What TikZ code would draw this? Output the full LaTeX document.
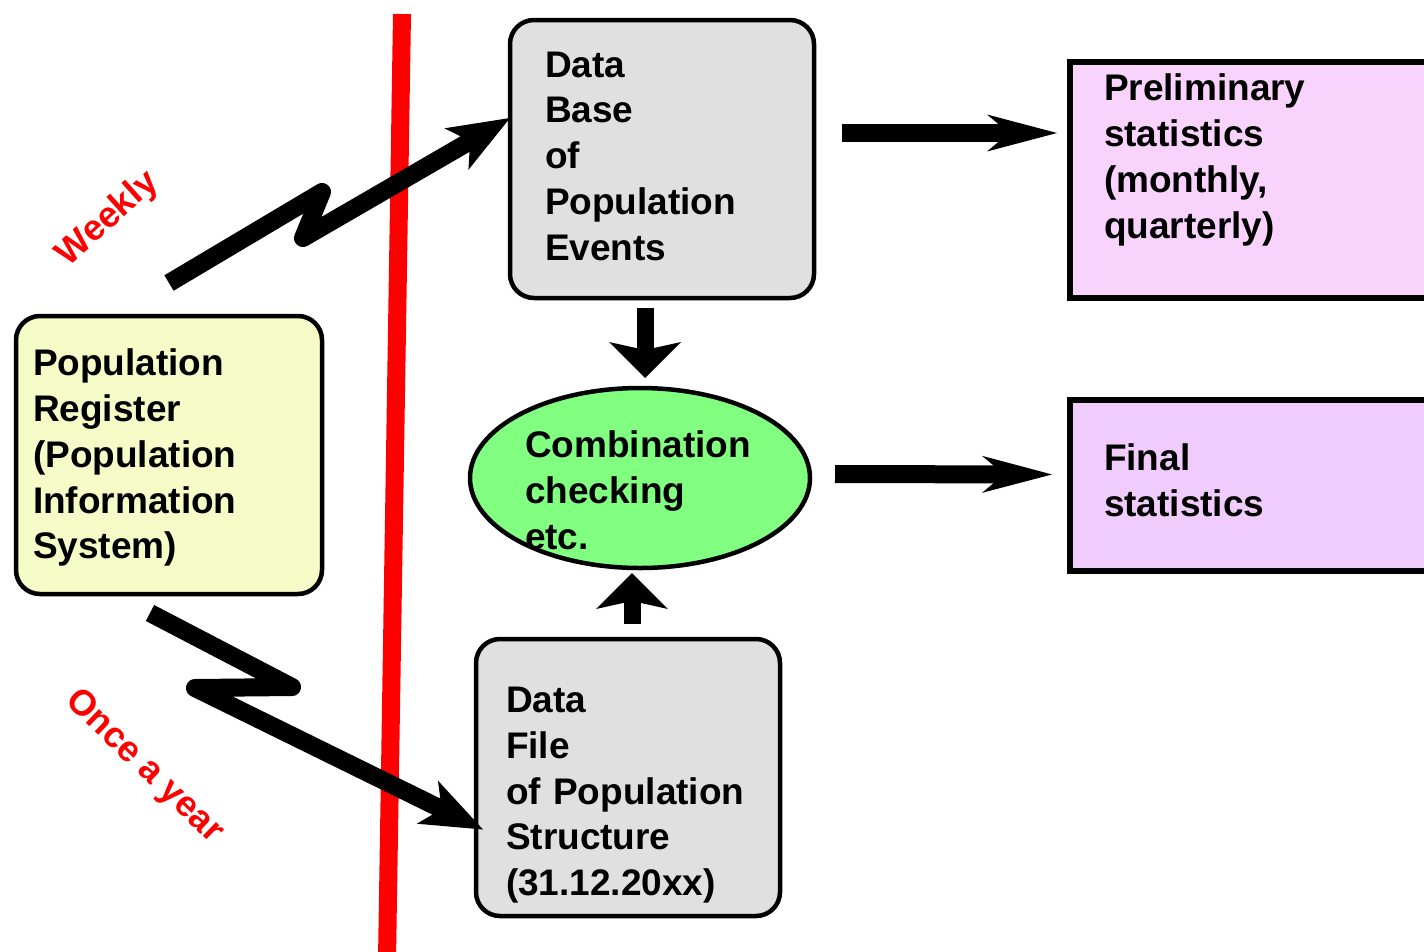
\documentclass[tikz,border=0pt]{standalone}
\usepackage{fontspec}
\setmainfont{Liberation Sans}
\usetikzlibrary{arrows.meta,shapes.geometric}

\definecolor{regyellow}{HTML}{F6FCC8}
\definecolor{dbgray}{HTML}{E0E0E0}
\definecolor{combgreen}{HTML}{80FF80}
\definecolor{prelimpink}{HTML}{F8D4FC}
\definecolor{finalpink}{HTML}{F0CCFC}

\tikzset{
  box/.style={draw,line width=4.5pt,rounded corners=24pt,anchor=north west,align=left,inner ysep=0pt,outer sep=0pt},
  statbox/.style={draw,line width=6pt,anchor=north west,align=left,inner ysep=0pt,outer sep=0pt},
  fat/.style={line width=18pt,-{Stealth[length=70pt,width=37pt,inset=22pt,line width=0pt]}},
  vert/.style={line width=17pt,-{Stealth[length=36pt,width=72pt,inset=8pt,line width=0pt]}},
  zig/.style={line width=18pt,line join=round,-{Stealth[length=62pt,width=48pt,inset=16pt,line width=0pt]}},
  freq/.style={text=red,font=\fontsize{36}{42}\selectfont\bfseries}
}

\begin{document}
\begin{tikzpicture}[x=1pt,y=-1pt,font=\fontsize{37}{45.75}\selectfont\bfseries]
    \useasboundingbox (0,0) rectangle (1424,951);
    \clip (0,0) rectangle (1424,951);
    \draw[red,line width=18pt] (402,14) -- (387,960);
    \node[box,fill=regyellow,text width=272pt,inner xsep=17pt,minimum height=278pt,text depth=185pt] (reg) at (16,316) {Population\\Register\\(Population\\Information\\System)};
    \node[box,fill=dbgray,text width=234pt,inner xsep=35pt,minimum height=278pt,text depth=189pt] (dbev) at (510,20) {Data\\Base\\of\\Population\\Events};
    \node[box,fill=dbgray,text width=244pt,inner xsep=30pt,minimum height=277pt,text depth=155pt] (file) at (476,639) {Data\\File\\of Population\\Structure\\(31.12.20xx)};
    \node[draw,ellipse,fill=combgreen,line width=4.5pt,outer sep=0pt,minimum width=340pt,minimum height=180pt,inner sep=0pt,text width=230pt,align=left,text height=43pt,text depth=83.5pt] (comb) at (640,478) {Combination\\checking\\etc.};
    \node[statbox,fill=prelimpink,text width=292pt,inner xsep=34pt,minimum height=236pt,text depth=185pt] (prelim) at (1070,62) {Preliminary\\statistics\\(monthly,\\quarterly)};
    \node[statbox,fill=finalpink,text width=292pt,inner xsep=34pt,minimum height=171pt,text depth=57pt] (final) at (1070,400) {Final\\statistics};
    \node[freq,rotate=42] (weekly) at (108,219) {Weekly};
    \node[freq,rotate=-44] (yearly) at (144,767) {Once a year};
    \draw[zig] ([yshift=33pt]reg.north) -- (322,192) -- (303,238) -- ([yshift=41pt]dbev.west);
    \draw[zig] ([xshift=-19pt,yshift=-19pt]reg.south) -- (292,687) -- (195,688) -- ([xshift=7pt,yshift=-52pt]file.west);
    \draw[vert,shorten <=10pt,shorten >=10pt] ([xshift=-17pt]dbev.south) -- ([xshift=5pt]comb.north);
    \draw[vert,shorten <=15pt,shorten >=5pt] ([xshift=4pt]file.north) -- ([xshift=-8pt]comb.south);
    \draw[fat,shorten <=28pt,shorten >=13pt] ([yshift=26pt]dbev.east) -- ([yshift=47pt]prelim.west);
    \draw[fat,shorten <=25pt,shorten >=18pt] ([yshift=4pt]comb.east) -- ([yshift=11pt]final.west);
\end{tikzpicture}
\end{document}
